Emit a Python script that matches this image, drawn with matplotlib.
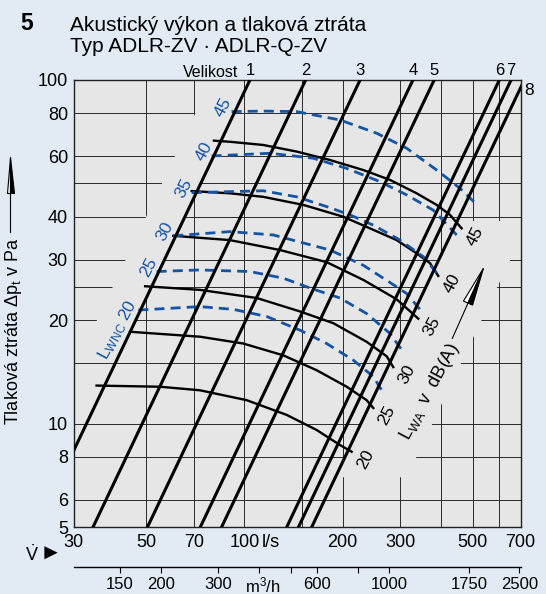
import numpy as np
import matplotlib.pyplot as plt
from matplotlib.patches import Polygon
from matplotlib.lines import Line2D
from matplotlib.transforms import IdentityTransform
from matplotlib.ticker import FixedLocator, FixedFormatter, NullLocator

plt.rcParams['font.family'] = ['Liberation Sans', 'DejaVu Sans']
plt.rcParams['mathtext.fontset'] = 'custom'
plt.rcParams['mathtext.rm'] = 'Liberation Sans'
plt.rcParams['mathtext.it'] = 'Liberation Sans:italic'

# size lines (Velikost): flow in l/s at 100 Pa, dp grows with flow^2
sizes = ['1', '2', '3', '4', '5', '6', '7', '8']
size_flow_100pa = [104, 154, 226, 328, 381, 603, 655, 719]

# sound power L_WA in dB(A), black curves (flow l/s, dp Pa)
lwa_levels = [45, 40, 35, 30, 25, 20]
lwa_flow = [
    [80.7, 90.3, 114.2, 144.6, 182.8, 231.1, 279.0, 336.6, 387.7, 426.0, 462.3],
    [69.0, 90.3, 114.2, 151.5, 200.8, 242.3, 292.5, 336.6, 369.9, 392.1],
    [60.6, 90.3, 128.5, 178.6, 231.1, 292.5, 340.6],
    [49.7, 73.1, 109.1, 148.0, 187.1, 236.7, 272.6, 285.6],
    [44.7, 73.1, 99.2, 131.5, 166.4, 205.7, 236.7, 248.1],
    [35.3, 55.2, 73.1, 101.6, 134.7, 166.4, 196.2, 213.0],
]
lwa_dp = [
    [66.6, 66.1, 64.7, 61.9, 58.5, 54.7, 51.2, 46.8, 43.3, 40.5, 37.0],
    [47.5, 46.8, 45.7, 43.3, 40.0, 37.0, 34.2, 31.3, 29.3, 26.9],
    [35.2, 34.2, 32.0, 29.5, 26.2, 23.0, 20.2],
    [25.1, 24.5, 23.2, 21.2, 19.6, 17.3, 15.7, 14.6],
    [18.5, 17.9, 17.1, 15.8, 14.3, 12.8, 11.7, 11.1],
    [12.9, 12.8, 12.5, 11.7, 10.6, 9.58, 8.66, 8.28],
]

# L_WNC, blue dashed curves
lwnc_levels = [45, 40, 35, 30, 25, 20]
lwnc_flow = [
    [91.4, 114.2, 144.6, 196.2, 254.0, 313.8, 387.7, 456.9, 507.8],
    [79.4, 119.8, 162.5, 205.7, 260.0, 313.8, 378.6, 446.4],
    [69.0, 114.2, 144.6, 178.6, 210.5, 248.1, 299.4, 352.8, 392.1],
    [60.6, 90.3, 122.6, 182.8, 231.1, 292.5, 313.8, 348.9],
    [53.9, 73.1, 104.1, 131.5, 158.8, 196.2, 236.7, 279.0, 303.0],
    [47.4, 73.1, 92.5, 117.0, 148.0, 178.6, 215.4, 248.1, 263.2],
]
lwnc_dp = [
    [80.9, 81.2, 80.9, 76.5, 70.0, 63.3, 54.7, 48.4, 43.9],
    [60.1, 61.2, 59.2, 55.3, 50.6, 46.3, 41.8, 35.4],
    [47.0, 47.6, 45.7, 42.8, 40.5, 37.8, 34.2, 30.6, 27.1],
    [35.2, 36.2, 35.4, 32.0, 28.9, 25.0, 23.9, 21.2],
    [27.7, 28.0, 27.7, 26.5, 24.8, 23.2, 20.9, 18.3, 16.4],
    [21.4, 21.9, 21.5, 20.5, 18.7, 17.1, 15.3, 13.7, 12.5],
]

x_ticks = [30, 50, 70, 100, 200, 300, 500, 700]
y_ticks = [5, 6, 8, 10, 20, 30, 40, 60, 80, 100]
grid_flow = [50, 70, 100, 150, 200, 300, 400, 500, 600]
grid_dp = [6, 8, 10, 15, 20, 25, 30, 40, 50, 60, 80]
m3h_ticks = [150, 200, 300, 400, 500, 600, 800, 1000, 1750, 2500]
m3h_labels = ['150', '200', '300', '', '', '600', '', '1000', '1750', '2500']

bg = '#e2eaf4'
panel = '#e6e6e6'
blue = '#1553a3'

fig = plt.figure(figsize=(5.46, 5.94), dpi=100, facecolor=bg)
ax = fig.add_axes([73.5 / 546, 1 - 527 / 594, 447 / 546, 447 / 594])
ax.set_xscale('log')
ax.set_yscale('log')
ax.set_xlim(30, 700)
ax.set_ylim(5, 100)
ax.set_facecolor(panel)
for s in ax.spines.values():
    s.set_linewidth(1.0)
    s.set_color('#222222')

# grid
for v in grid_flow:
    ax.axvline(v, color='#2a2a2a', lw=0.7, zorder=1)
for p in grid_dp:
    ax.axhline(p, color='#2a2a2a', lw=0.7, zorder=1)

# blank bands in the grid (next to size 1 and beyond size 8)
k1 = size_flow_100pa[0] ** 2 / 100
k8 = size_flow_100pa[-1] ** 2 / 100
pp = np.geomspace(17, 92, 60)
ax.fill_betweenx(pp, np.sqrt(62 * pp), np.sqrt(k1 * pp), color=panel, lw=0, zorder=1.5)
pp = np.geomspace(7, 39, 60)
ax.fill_betweenx(pp, np.sqrt(k8 * pp), np.minimum(np.sqrt(14000 * pp), 700),
                 color=panel, lw=0, zorder=1.5)

# size lines
for name, v100 in zip(sizes, size_flow_100pa):
    vv = np.array([20.0, 900.0])
    ax.plot(vv, 100 * (vv / v100) ** 2, color='black', lw=2.2, zorder=4)
    if name != '8':
        ax.annotate(name, xy=(v100, 100), xytext=(0, 1.5), textcoords='offset points',
                    ha='center', va='bottom', fontsize=12, annotation_clip=False)
ax.annotate('8', xy=(700, 100 * (700 / size_flow_100pa[-1]) ** 2), xytext=(3, -2),
            textcoords='offset points', ha='left', va='center', fontsize=12.5,
            annotation_clip=False)
ax.text(0.369, 1.0, 'Velikost', transform=ax.transAxes, ha='right', va='bottom',
        fontsize=11.5)

# L_WA curves
for lev, fl, dp in zip(lwa_levels, lwa_flow, lwa_dp):
    ax.plot(fl, dp, color='black', lw=1.7, zorder=3, solid_joinstyle='round')
    ax.annotate(str(lev), xy=(fl[-1], dp[-1]), xytext=(10, -5.4), textcoords='offset points',
                ha='center', va='center', rotation=62, rotation_mode='anchor', fontsize=12.5)

# L_WNC curves
for lev, fl, dp in zip(lwnc_levels, lwnc_flow, lwnc_dp):
    ax.plot(fl, dp, color=blue, lw=2.0, dashes=(3.6, 2.2), zorder=3.5)
    if lev == 20:
        ax.annotate(r'L$_{\mathrm{WNC}}$ 20', xy=(fl[0], dp[0]), xytext=(-4, 6.2),
                    textcoords='offset points', ha='right', va='center', rotation=62,
                    rotation_mode='anchor', fontsize=12.5, color=blue)
    else:
        ax.annotate(str(lev), xy=(fl[0], dp[0]), xytext=(-5.7, 3), textcoords='offset points',
                    ha='center', va='center', rotation=62, rotation_mode='anchor',
                    fontsize=12.5, color=blue)

ax.text(370, 12.4, r'L$_{\mathrm{WA}}$  v  dB(A)', ha='center', va='center', rotation=62,
        rotation_mode='anchor', fontsize=13)

# axes ticks
ax.xaxis.set_major_locator(FixedLocator(x_ticks))
ax.xaxis.set_major_formatter(FixedFormatter([str(t) for t in x_ticks]))
ax.yaxis.set_major_locator(FixedLocator(y_ticks))
ax.yaxis.set_major_formatter(FixedFormatter([str(t) for t in y_ticks]))
ax.xaxis.set_minor_locator(NullLocator())
ax.yaxis.set_minor_locator(NullLocator())
ax.tick_params(axis='both', length=0, labelsize=13)
ax.tick_params(axis='x', pad=5)
ax.tick_params(axis='y', pad=4)
ax.annotate('l/s', xy=(100, 0), xycoords=('data', 'axes fraction'), xytext=(12.5, -5),
            textcoords='offset points', ha='left', va='top', fontsize=13)

sec = ax.secondary_xaxis(-0.0895, functions=(lambda v: v * 3.6, lambda m: m / 3.6))
sec.xaxis.set_major_locator(FixedLocator(m3h_ticks))
sec.xaxis.set_major_formatter(FixedFormatter(m3h_labels))
sec.xaxis.set_minor_locator(NullLocator())
sec.tick_params(axis='x', direction='out', length=4, width=0.8, labelsize=12, pad=3.5)
sec.spines['bottom'].set_linewidth(1.0)
fig.text(263 / 546, 1 - 585 / 594, 'm$^3$/h', ha='center', va='center', fontsize=12)

fig.text(32 / 546, 1 - 555 / 594, r'$\dot{\mathrm{V}}$', ha='center', va='center', fontsize=13)
fig.text(51 / 546, 1 - 554 / 594, '\u25ba', ha='center', va='center', fontsize=16)

fig.text(14 / 546, 1 - 331 / 594, r'Tlaková ztráta Δp$_{\mathrm{t}}$ v Pa', rotation=90,
         ha='center', va='center', fontsize=13)


def half_arrow(tail, tip, head_len, half_w):
    # thin shaft, head with white left half and black right half (pixel coords)
    tail = np.asarray(tail, float)
    tip = np.asarray(tip, float)
    d = (tip - tail) / np.hypot(*(tip - tail))
    n = np.array([-d[1], d[0]])
    base = tip - d * head_len
    tr = IdentityTransform()
    fig.add_artist(Line2D([tail[0], base[0]], [tail[1], base[1]], color='black', lw=0.8,
                          transform=tr))
    fig.add_artist(Polygon([tip, base, base + n * half_w], closed=True, fc='white',
                           ec='black', lw=0.8, transform=tr))
    fig.add_artist(Polygon([tip, base, base - n * half_w], closed=True, fc='black',
                           ec='black', lw=0.8, transform=tr))


half_arrow((10, 594 - 232), (10, 594 - 157), 36, 3.5)
half_arrow(ax.transData.transform((433, 17.7)), ax.transData.transform((539, 28.3)), 38, 5)

# heading
fig.text(20 / 546, 1 - 30.5 / 594, '5', fontsize=16.5, fontweight='bold', va='baseline')
fig.text(70 / 546, 1 - 30.6 / 594, 'Akustický výkon a tlaková ztráta', fontsize=15,
         va='baseline')
fig.text(70 / 546, 1 - 52.2 / 594, 'Typ ADLR-ZV · ADLR-Q-ZV', fontsize=15, va='baseline')

fig.savefig('out.png', dpi=100, facecolor=bg)
